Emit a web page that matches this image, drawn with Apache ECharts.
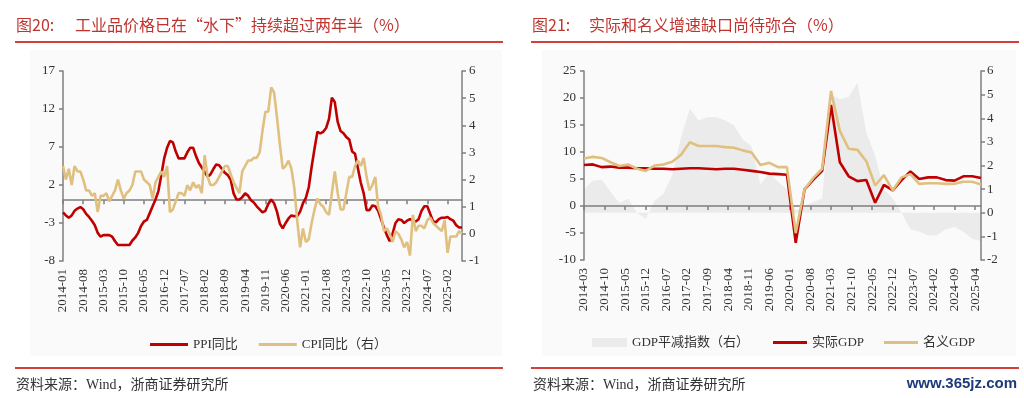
<!DOCTYPE html>
<html>
<head>
<meta charset="utf-8">
<script src="https://cdn.jsdelivr.net/npm/echarts@6.0.0/dist/echarts.min.js"></script>
<style>
  html, body { margin: 0; padding: 0; background: #fff; }
  #chart { width: 1024px; height: 398px; }
</style>
</head>
<body>
<div id="chart"></div>
<script>
// fig 20: monthly YoY, 2014-01 .. 2025-07
const ppiYoY = [
  -1.6, -2.0, -2.3, -2.0, -1.4, -1.1, -0.9, -1.2, -1.8, -2.2, -2.7, -3.3,
  -4.3, -4.8, -4.6, -4.6, -4.6, -4.8, -5.4, -5.9, -5.9, -5.9, -5.9, -5.9,
  -5.3, -4.9, -4.3, -3.4, -2.8, -2.6, -1.7, -0.8, 0.1, 1.2, 3.3, 5.5,
  6.9, 7.8, 7.6, 6.4, 5.5, 5.5, 5.5, 6.3, 6.9, 6.9, 5.8, 4.9,
  4.3, 3.7, 3.1, 3.4, 4.1, 4.7, 4.6, 4.1, 3.6, 3.3, 2.7, 0.9,
  0.1, 0.1, 0.4, 0.9, 0.6, 0.0, -0.3, -0.8, -1.2, -1.6, -1.4, -0.5,
  0.1, -0.4, -1.5, -3.1, -3.7, -3.0, -2.4, -2.0, -2.1, -2.1, -1.5, -0.4,
  0.3, 1.7, 4.4, 6.8, 9.0, 8.8, 9.0, 9.5, 10.7, 13.5, 12.9, 10.3,
  9.1, 8.8, 8.3, 8.0, 6.4, 6.1, 4.2, 2.3, 0.9, -1.3, -1.3, -0.7,
  -0.8, -1.4, -2.5, -3.6, -4.6, -5.4, -4.4, -3.0, -2.5, -2.6, -3.0, -2.7,
  -2.5, -2.7, -2.8, -2.5, -1.4, -0.8, -0.8, -1.8, -2.8, -2.9, -2.5, -2.3,
  -2.3, -2.2, -2.5, -2.7, -3.3, -3.6, -3.6
];
const cpiYoY = [
  2.5, 2.0, 2.4, 1.8, 2.5, 2.3, 2.3, 2.0, 1.6, 1.6, 1.4, 1.5,
  0.8, 1.4, 1.4, 1.5, 1.2, 1.4, 1.6, 2.0, 1.6, 1.3, 1.5, 1.6,
  1.8, 2.3, 2.3, 2.3, 2.0, 1.9, 1.8, 1.3, 1.9, 2.1, 2.3, 2.1,
  2.5, 0.8, 0.9, 1.2, 1.5, 1.5, 1.4, 1.8, 1.6, 1.9, 1.7, 1.8,
  1.5, 2.9, 2.1, 1.8, 1.8, 1.9, 2.1, 2.3, 2.5, 2.5, 2.2, 1.9,
  1.7, 1.5, 2.3, 2.5, 2.7, 2.7, 2.8, 2.8, 3.0, 3.8, 4.5, 4.5,
  5.4, 5.2, 4.3, 3.3, 2.4, 2.5, 2.7, 2.4, 1.7, 0.5, -0.5, 0.2,
  -0.3, -0.2, 0.4, 0.9, 1.3, 1.1, 1.0, 0.8, 0.7, 1.5, 2.3, 1.5,
  0.9, 0.9, 1.5, 2.1, 2.1, 2.5, 2.7, 2.5, 2.8, 2.1, 1.6, 1.8,
  2.1, 1.0, 0.7, 0.1, 0.2, 0.0, -0.3, 0.1, 0.0, -0.2, -0.5, -0.3,
  -0.8, 0.7, 0.1, 0.3, 0.3, 0.2, 0.5, 0.6, 0.4, 0.3, 0.2, 0.1,
  0.5, -0.7, -0.1, -0.1, -0.1, 0.1, 0.0
];

// fig 21: quarterly, 2014Q1 .. 2025Q2 (plotted on a monthly axis)
const realGdp = [
  7.6, 7.7, 7.2, 7.3, 7.1, 7.1, 7.0, 7.0, 6.9, 6.9, 6.8, 6.9,
  7.0, 7.0, 6.9, 6.8, 6.9, 6.9, 6.7, 6.5, 6.3, 6.0, 5.9, 5.8,
  -6.8, 3.1, 4.9, 6.5, 18.7, 8.1, 5.5, 4.6, 4.8, 0.6, 3.9, 2.9,
  4.8, 6.4, 5.0, 5.3, 5.3, 4.8, 4.7, 5.5, 5.5, 5.2
];
const nominalGdp = [
  8.8, 9.1, 8.9, 8.1, 7.4, 7.7, 6.9, 6.5, 7.5, 7.7, 8.2, 9.5,
  11.8, 11.1, 11.1, 11.1, 10.9, 10.8, 10.3, 9.9, 7.6, 8.0, 7.2, 7.2,
  -5.0, 3.1, 5.2, 6.9, 21.3, 13.9, 10.6, 10.4, 8.3, 3.8, 5.7, 2.9,
  5.3, 5.9, 4.1, 4.2, 4.2, 4.1, 4.1, 4.5, 4.5, 4.0
];
const gdpDeflator = [
  1.0, 1.35, 1.4, 0.9, 0.4, 0.6, 0.0, -0.25, 0.5, 0.8, 1.6, 3.2,
  4.4, 3.9, 4.05, 4.05, 3.9, 3.7, 3.1, 2.8, 1.2, 1.7, 1.3, 1.0,
  0.1, 0.3, 0.45, 0.6, 5.0, 4.8, 4.9, 5.5, 3.4, 2.4, 1.0, 0.6,
  0.0, -0.7, -0.8, -0.95, -0.95, -0.7, -0.6, -0.8, -1.1, -1.2
];

const RED = '#c00000';
const GOLD = '#e0c080';
const GREY_AREA = '#ebebeb';
const AXIS_GREY = '#7f7f7f';
const TXT = '#333';
const SERIF = "'Liberation Serif', 'Times New Roman', 'Noto Sans CJK SC', serif";
const CJK = "'Noto Sans CJK SC', sans-serif";

function monthLabels(year, month, count) {
  const out = [];
  for (let i = 0; i < count; i++) {
    const m = month - 1 + i;
    const y = year + Math.floor(m / 12);
    const mm = (m % 12) + 1;
    out.push(y + '-' + (mm < 10 ? '0' + mm : mm));
  }
  return out;
}

const priceMonths = monthLabels(2014, 1, ppiYoY.length);
const gdpMonths = monthLabels(2014, 3, (realGdp.length - 1) * 3 + 1);

// quarter values sit on the quarter-end month, other months are empty
function onQuarterMonths(values) {
  const out = new Array(gdpMonths.length).fill(null);
  values.forEach((v, i) => { out[i * 3] = v; });
  return out;
}

function zeroAxis(gridIndex, data) {
  return {
    gridIndex: gridIndex, type: 'category', data: data, boundaryGap: false, z: 1,
    axisLine: { onZero: true, onZeroAxisIndex: gridIndex * 2, lineStyle: { color: AXIS_GREY, width: 1.5 } },
    axisTick: { show: true, interval: 6, length: 4, lineStyle: { color: AXIS_GREY, width: 1.5 } },
    axisLabel: { show: false },
    splitLine: { show: false }
  };
}

function labelAxis(gridIndex, data) {
  return {
    gridIndex: gridIndex, type: 'category', data: data, boundaryGap: false, position: 'bottom',
    axisLine: { show: false, onZero: false },
    axisTick: { show: false },
    axisLabel: { interval: 6, rotate: 90, margin: 8, color: TXT, fontSize: 13, fontFamily: SERIF },
    splitLine: { show: false }
  };
}

function valueAxis(gridIndex, position, min, max, step, margin) {
  return {
    gridIndex: gridIndex, type: 'value', position: position,
    min: min, max: max, interval: step,
    axisLine: { show: true, lineStyle: { color: AXIS_GREY, width: 1.5 } },
    axisTick: { show: true, length: 4, lineStyle: { color: AXIS_GREY, width: 1.5 } },
    axisLabel: { margin: margin, color: TXT, fontSize: 13, fontFamily: SERIF },
    splitLine: { show: false }
  };
}

function lineSeries(name, xi, yi, data, color, extra) {
  return Object.assign({
    name: name, type: 'line', xAxisIndex: xi, yAxisIndex: yi, data: data,
    showSymbol: false, symbol: 'none', z: 3,
    lineStyle: { color: color, width: 2.6 },
    itemStyle: { color: color }
  }, extra || {});
}

const legendText = { color: TXT, fontSize: 13, fontFamily: SERIF };

const chart = echarts.init(document.getElementById('chart'), null, { renderer: 'canvas' });

chart.setOption({
  animation: false,
  backgroundColor: '#fff',
  grid: [
    { left: 63, top: 71, width: 399, height: 190 },
    { left: 584, top: 71, width: 397, height: 189 }
  ],
  xAxis: [
    zeroAxis(0, priceMonths),
    labelAxis(0, priceMonths),
    zeroAxis(1, gdpMonths),
    labelAxis(1, gdpMonths)
  ],
  yAxis: [
    valueAxis(0, 'left', -8, 17, 5, 8),
    valueAxis(0, 'right', -1, 6, 1, 7),
    valueAxis(1, 'left', -10, 25, 5, 8),
    valueAxis(1, 'right', -2, 6, 1, 6)
  ],
  legend: [
    {
      data: ['PPI同比', 'CPI同比（右）'], left: 145, top: 333,
      icon: 'rect', itemWidth: 38, itemHeight: 3, itemGap: 21, textStyle: legendText
    },
    {
      data: ['GDP平减指数（右）'], left: 587, top: 331,
      icon: 'rect', itemWidth: 35, itemHeight: 9, textStyle: legendText
    },
    {
      data: ['实际GDP', '名义GDP'], left: 768, top: 331,
      icon: 'rect', itemWidth: 34, itemHeight: 3, itemGap: 20, textStyle: legendText
    }
  ],
  series: [
    lineSeries('PPI同比', 0, 0, ppiYoY, RED),
    lineSeries('CPI同比（右）', 0, 1, cpiYoY, GOLD),
    {
      name: 'GDP平减指数（右）', type: 'line', xAxisIndex: 2, yAxisIndex: 3,
      data: onQuarterMonths(gdpDeflator), connectNulls: true,
      showSymbol: false, symbol: 'none', z: 0,
      lineStyle: { width: 0, color: GREY_AREA },
      areaStyle: { color: GREY_AREA, opacity: 1 },
      itemStyle: { color: GREY_AREA }
    },
    lineSeries('实际GDP', 2, 2, onQuarterMonths(realGdp), RED, { connectNulls: true }),
    lineSeries('名义GDP', 2, 2, onQuarterMonths(nominalGdp), GOLD, { connectNulls: true, z: 4 })
  ],
  graphic: [
    { type: 'rect', z: -10, silent: true, shape: { x: 30, y: 50, width: 472, height: 306 }, style: { fill: '#fafafa' } },
    { type: 'rect', z: -10, silent: true, shape: { x: 542, y: 50, width: 474, height: 306 }, style: { fill: '#fafafa' } },

    { type: 'text', x: 16, y: 25, style: { text: '图20:', font: '16px ' + CJK, fill: '#c0342f', verticalAlign: 'middle' } },
    { type: 'text', x: 75, y: 25, style: { text: '工业品价格已在“水下”持续超过两年半（%）', font: '16px ' + CJK, fill: '#c0342f', verticalAlign: 'middle' } },
    { type: 'rect', shape: { x: 15, y: 41, width: 488, height: 2 }, style: { fill: '#d2403a' } },

    { type: 'text', x: 532, y: 25, style: { text: '图21:', font: '16px ' + CJK, fill: '#c0342f', verticalAlign: 'middle' } },
    { type: 'text', x: 589, y: 25, style: { text: '实际和名义增速缺口尚待弥合（%）', font: '16px ' + CJK, fill: '#c0342f', verticalAlign: 'middle' } },
    { type: 'rect', shape: { x: 531, y: 41, width: 488, height: 2 }, style: { fill: '#d2403a' } },

    { type: 'rect', shape: { x: 15, y: 367, width: 488, height: 2 }, style: { fill: '#d2403a' } },
    { type: 'rect', shape: { x: 531, y: 367, width: 488, height: 2 }, style: { fill: '#d2403a' } },
    { type: 'text', x: 16, y: 385, style: { text: '资料来源：Wind，浙商证券研究所', font: '14px ' + SERIF, fill: '#333', verticalAlign: 'middle' } },
    { type: 'text', x: 533, y: 385, style: { text: '资料来源：Wind，浙商证券研究所', font: '14px ' + SERIF, fill: '#333', verticalAlign: 'middle' } },
    { type: 'text', x: 1017, y: 384, style: { text: 'www.365jz.com', font: 'bold 15px "Liberation Sans", sans-serif', fill: '#1d3a7a', align: 'right', verticalAlign: 'middle' } }
  ]
});
</script>
</body>
</html>
